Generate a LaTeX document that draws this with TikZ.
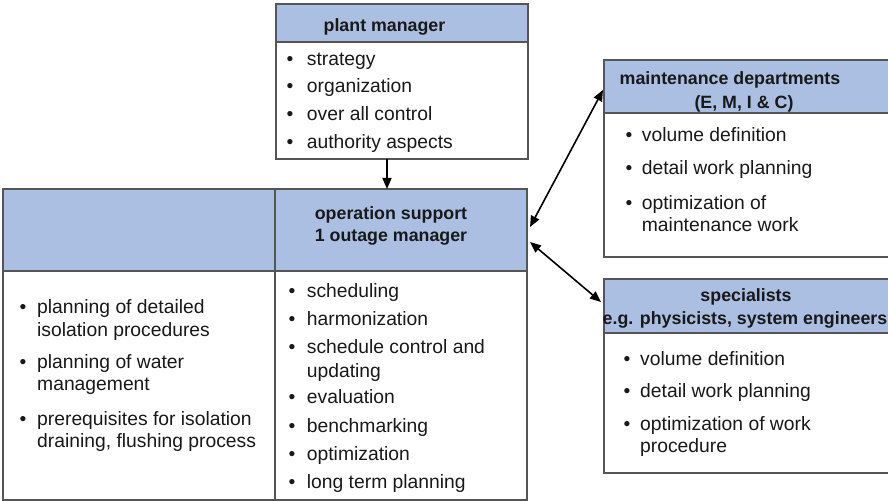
\documentclass[tikz,border=0pt]{standalone}
\usepackage{fontspec}
\setmainfont{Liberation Sans}
\usetikzlibrary{arrows.meta}
\definecolor{hdrblue}{RGB}{170,191,225}
\definecolor{edgegray}{RGB}{85,85,85}
\definecolor{ink}{RGB}{25,25,25}
\begin{document}
\begin{tikzpicture}[x=1pt,y=-1pt,
  boxbase/.style={draw=edgegray, line width=1.3pt, anchor=north west, inner sep=0pt, outer sep=0pt},
  hdr/.style={boxbase, fill=hdrblue},
  bodybox/.style={boxbase, fill=white},
  htext/.style={font=\fontsize{17.8}{22}\selectfont\bfseries, text=ink, anchor=base, inner sep=0pt},
  btext/.style={font=\fontsize{19.3}{24}\selectfont, text=ink, anchor=base west, inner sep=0pt},
  bul/.style={font=\fontsize{19.3}{24}\selectfont, text=ink, anchor=base, inner sep=0pt},
  arr/.style={line width=1.6pt, draw=black, -{Triangle[length=11pt,width=9pt]}},
  darr/.style={line width=1.6pt, draw=black, {Triangle[length=11pt,width=9pt]}-{Triangle[length=11pt,width=9pt]}}
]
\useasboundingbox (0,0) rectangle (888,502);
\clip (0,0) rectangle (888,502);
\fill[white] (0,0) rectangle (888,502);

% boxes
\node[hdr, minimum width=252pt, minimum height=38pt] (pmh) at (276,4) {};
\node[bodybox, minimum width=252pt, minimum height=117pt] (pmb) at (276,42) {};
\node[hdr, minimum width=272pt, minimum height=82pt] (oplh) at (3,189) {};
\node[hdr, minimum width=252pt, minimum height=82pt] (oprh) at (275,189) {};
\node[bodybox, minimum width=272pt, minimum height=229pt] (oplb) at (3,271) {};
\node[bodybox, minimum width=252pt, minimum height=229pt] (oprb) at (275,271) {};
\node[hdr, minimum width=290pt, minimum height=53pt] (mh) at (604,60) {};
\node[bodybox, minimum width=290pt, minimum height=144pt] (mb) at (604,113) {};
\node[hdr, minimum width=290pt, minimum height=54pt] (sh) at (604,279) {};
\node[bodybox, minimum width=290pt, minimum height=140pt] (sb) at (604,333) {};

% headers
\node[htext] (t1) at (384.5,31.7) {plant manager};
\node[htext] (t2) at (391,219.7) {operation support};
\node[htext] (t3) at (391,241.7) {1 outage manager};
\node[htext] (t4) at (730,84.7) {maintenance departments};
\node[htext] (t5) at (744,108.5) {(E, M, I \& C)};
\node[htext] (t6) at (746,301.7) {specialists};
\node[htext] (t7) at (745,324.7) {e.g. physicists, system engineers};

% plant manager list
\foreach \y/\t [count=\i] in {66/strategy,93/organization,121/over all control,149/authority aspects}{
  \node[bul] (pmbul\i) at (290,\y) {•};
  \node[btext] (pmi\i) at (306.7,\y) {\t};
}
% operation middle list
\foreach \y [count=\i] in {298,325,353,403,432,460,488}{
  \node[bul] (opbul\i) at (292,\y) {•};
}
\foreach \y/\t [count=\i] in {298/scheduling,325/harmonization,353/schedule control and,377/updating,403/evaluation,432/benchmarking,460/optimization,488/long term planning}{
  \node[btext] (opi\i) at (306.7,\y) {\t};
}
% left list
\foreach \y [count=\i] in {313,368,425}{
  \node[bul] (lbul\i) at (23,\y) {•};
}
\foreach \y/\t [count=\i] in {313/planning of detailed,337/isolation procedures,368/planning of water,390/management,425/prerequisites for isolation,447/{draining, flushing process}}{
  \node[btext] (li\i) at (37,\y) {\t};
}
% maintenance list
\foreach \y [count=\i] in {142,175,210}{
  \node[bul] (mbul\i) at (629,\y) {•};
}
\foreach \y/\t [count=\i] in {142/volume definition,175/detail work planning,210/optimization of,232/maintenance work}{
  \node[btext] (mi\i) at (641.7,\y) {\t};
}
% specialists list
\foreach \y [count=\i] in {365,397,430}{
  \node[bul] (sbul\i) at (627,\y) {•};
}
\foreach \y/\t [count=\i] in {365/volume definition,397/detail work planning,430/optimization of work,452/procedure}{
  \node[btext] (si\i) at (640,\y) {\t};
}

% connectors
\draw[arr] ([xshift=-15pt]pmb.south) -- ([xshift=-14pt]oprh.north);
\draw[darr] ([shift={(3pt,3pt)}]oprh.east) -- ([shift={(-1pt,-3.5pt)}]mh.west);
\draw[darr] ([shift={(3pt,-12pt)}]oprh.east) -- ([shift={(-3pt,4pt)}]sh.west);
\end{tikzpicture}
\end{document}
